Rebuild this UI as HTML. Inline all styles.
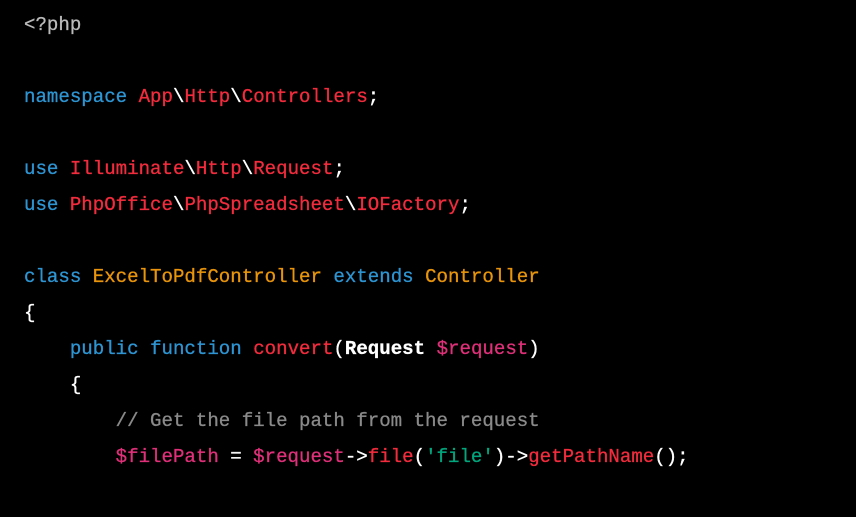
<!DOCTYPE html>
<html><head><style>
html,body{margin:0;padding:0;background:#000;width:856px;height:517px;overflow:hidden}
pre{margin:0;position:absolute;left:24px;top:7px;font-family:"Liberation Mono",monospace;font-size:19.1px;line-height:36px;color:#fff;-webkit-text-stroke:0.3px currentColor}
.b{color:#2e95d3}.r{color:#f22c3d}.o{color:#e9950c}.p{color:#df3079}.g{color:#00a67d}.c{color:#8a8a8a}.m{color:#bbbbbb}
</style></head><body>
<pre><span class="m">&lt;?php</span>

<span class="b">namespace</span> <span class="r">App</span>\<span class="r">Http</span>\<span class="r">Controllers</span>;

<span class="b">use</span> <span class="r">Illuminate</span>\<span class="r">Http</span>\<span class="r">Request</span>;
<span class="b">use</span> <span class="r">PhpOffice</span>\<span class="r">PhpSpreadsheet</span>\<span class="r">IOFactory</span>;

<span class="b">class</span> <span class="o">ExcelToPdfController</span> <span class="b">extends</span> <span class="o">Controller</span>
{
    <span class="b">public</span> <span class="b">function</span> <span class="r">convert</span>(<b>Request</b> <span class="p">$request</span>)
    {
        <span class="c">// Get the file path from the request</span>
        <span class="p">$filePath</span> = <span class="p">$request</span>-&gt;<span class="r">file</span>(<span class="g">'file'</span>)-&gt;<span class="r">getPathName</span>();
</pre>
</body></html>
